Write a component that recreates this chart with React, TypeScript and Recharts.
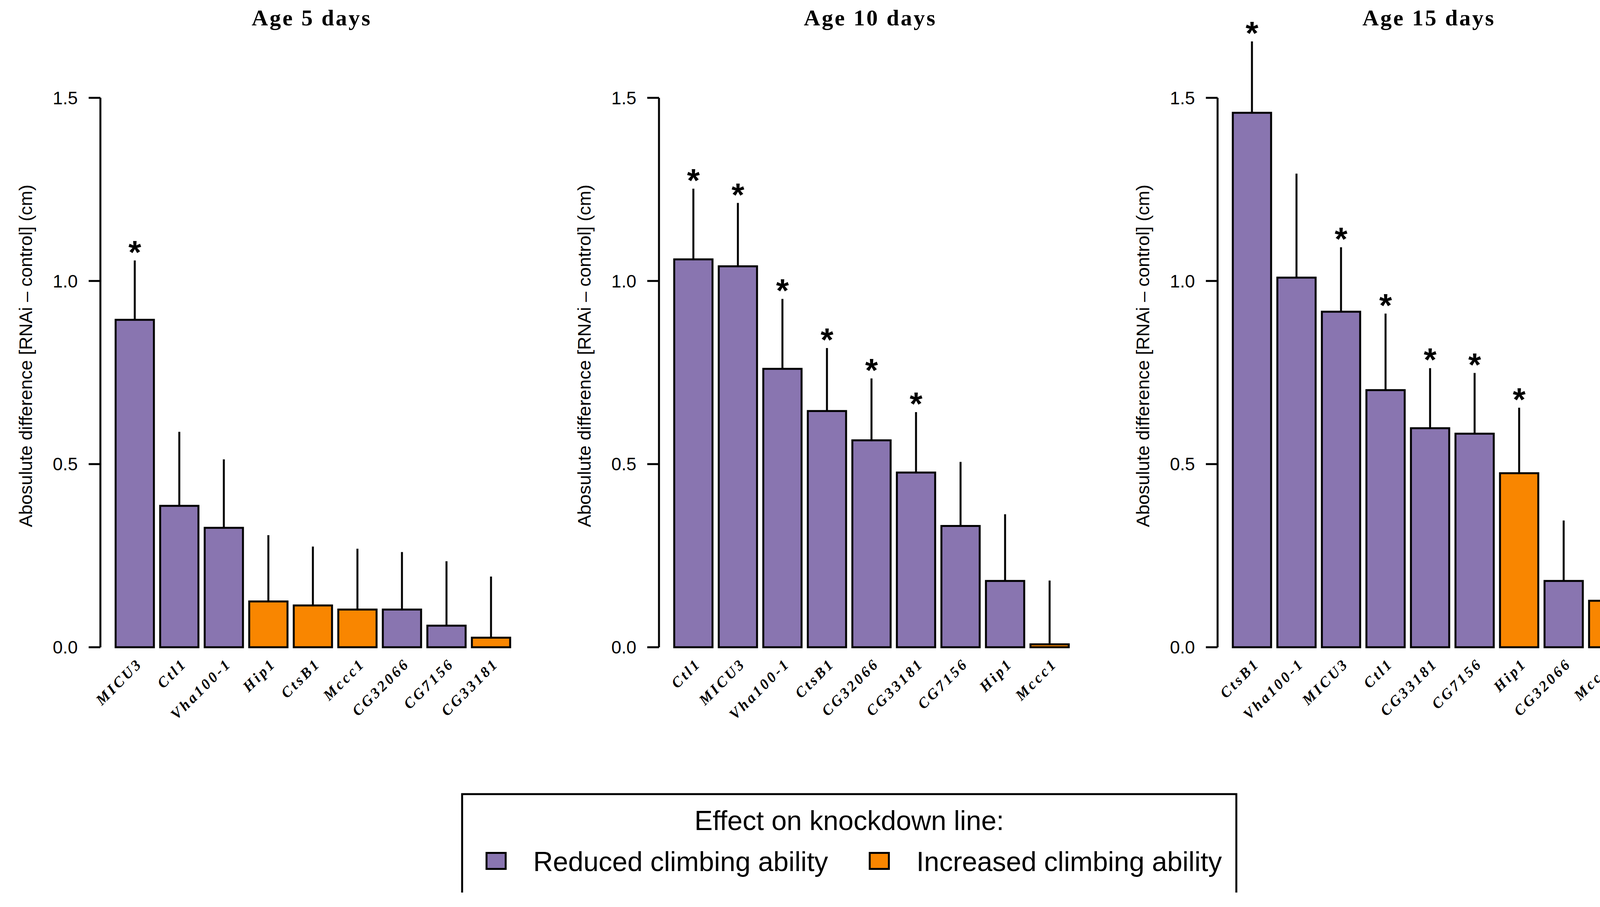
import React from "react";
import {
  ComposedChart,
  Bar,
  Cell,
  XAxis,
  YAxis,
  ErrorBar,
  Scatter,
  ReferenceLine,
  Label,
} from "recharts";

const PURPLE = "#8975B0";
const ORANGE = "#F98600";

// Age 5 days
const genes5 = ["MICU3", "Ctl1", "Vha100-1", "Hip1", "CtsB1", "Mccc1", "CG32066", "CG7156", "CG33181"];
const diff5 = [0.894, 0.386, 0.326, 0.125, 0.114, 0.103, 0.103, 0.059, 0.026];
const err5 = [0.162, 0.202, 0.187, 0.181, 0.161, 0.166, 0.157, 0.176, 0.167];
const effect5 = ["reduced", "reduced", "reduced", "increased", "increased", "increased", "reduced", "reduced", "increased"];
const sig5 = [true, false, false, false, false, false, false, false, false];

// Age 10 days
const genes10 = ["Ctl1", "MICU3", "Vha100-1", "CtsB1", "CG32066", "CG33181", "CG7156", "Hip1", "Mccc1"];
const diff10 = [1.059, 1.04, 0.76, 0.645, 0.565, 0.477, 0.331, 0.181, 0.008];
const err10 = [0.193, 0.173, 0.191, 0.172, 0.169, 0.165, 0.175, 0.182, 0.174];
const effect10 = ["reduced", "reduced", "reduced", "reduced", "reduced", "reduced", "reduced", "reduced", "increased"];
const sig10 = [true, true, true, true, true, true, false, false, false];

// Age 15 days
const genes15 = ["CtsB1", "Vha100-1", "MICU3", "Ctl1", "CG33181", "CG7156", "Hip1", "CG32066", "Mccc1"];
const diff15 = [1.459, 1.009, 0.916, 0.702, 0.598, 0.583, 0.475, 0.181, 0.127];
const err15 = [0.195, 0.284, 0.176, 0.209, 0.164, 0.166, 0.179, 0.165, 0.173];
const effect15 = ["reduced", "reduced", "reduced", "reduced", "reduced", "reduced", "increased", "reduced", "increased"];
const sig15 = [true, false, true, true, true, true, true, false, false];

const yTicks = [0, 0.5, 1, 1.5];
const yLabel = "Abosulute difference [RNAi \u2013 control] (cm)";

const AXIS_W = 260;

function buildRows(genes: string[], diffs: number[], errs: number[], effects: string[], sig: boolean[]) {
  return genes.map((g, i) => ({
    gene: g,
    diff: diffs[i],
    errRange: [0, errs[i]],
    star: sig[i] ? diffs[i] + errs[i] : null,
    effect: effects[i],
  }));
}

const panels = [
  { title: "Age 5 days", axisX: 257, rows: buildRows(genes5, diff5, err5, effect5, sig5) },
  { title: "Age 10 days", axisX: 1687, rows: buildRows(genes10, diff10, err10, effect10, sig10) },
  { title: "Age 15 days", axisX: 3117, rows: buildRows(genes15, diff15, err15, effect15, sig15) },
];

const GeneTick = (props: any) => {
  const { x, y, payload } = props;
  const tx = x + 22;
  const ty = y + 14;
  return (
    <text
      x={tx}
      y={ty}
      transform={`rotate(-45, ${tx}, ${ty})`}
      textAnchor="end"
      fontFamily="'Liberation Serif', serif"
      fontStyle="italic"
      fontWeight="bold"
      fontSize={38}
      letterSpacing={6}
      fill="#000"
    >
      {payload.value}
    </text>
  );
};

const Star = (props: any) => {
  const { cx, cy, payload } = props;
  if (!payload || payload.star == null || cx == null || cy == null) return <g />;
  return (
    <text
      x={cx}
      y={cy + 8}
      textAnchor="middle"
      fontFamily="'Liberation Sans', sans-serif"
      fontWeight="bold"
      fontSize={84}
      fill="#000"
    >
      *
    </text>
  );
};

const renderYLabel = (props: any) => {
  const vb = props.viewBox || { x: 0 };
  const x = vb.x + AXIS_W - 175;
  const y = 911;
  return (
    <text
      x={x}
      y={y}
      transform={`rotate(-90, ${x}, ${y})`}
      textAnchor="middle"
      fontFamily="'Liberation Sans', sans-serif"
      fontSize={47}
      fill="#000"
    >
      {yLabel}
    </text>
  );
};

function AgePanel({ rows, left }: { rows: any[]; left: number }) {
  return (
    <div style={{ position: "absolute", left, top: 0 }}>
      <ComposedChart width={AXIS_W + 1088 + 40} height={1897} data={rows} margin={{ top: 16, right: 40, bottom: 0, left: 0 }}>
        <XAxis
          xAxisId="gene"
          dataKey="gene"
          type="category"
          interval={0}
          padding={{ left: 31, right: 31 }}
          tickLine={false}
          axisLine={false}
          tickSize={0}
          tickMargin={0}
          height={240}
          tick={<GeneTick />}
        />
        <XAxis xAxisId="frame" type="number" domain={[0, 1]} hide />
        <YAxis
          width={AXIS_W}
          type="number"
          domain={[0, 1.75]}
          ticks={yTicks}
          interval={0}
          axisLine={false}
          tickLine={{ stroke: "#000", strokeWidth: 5 }}
          tickSize={30}
          tickMargin={28}
          tickFormatter={(v: number) => v.toFixed(1)}
          tick={{ fill: "#000", fontSize: 46, fontFamily: "'Liberation Sans', sans-serif" }}
        >
          <Label content={renderYLabel} />
        </YAxis>
        <ReferenceLine
          xAxisId="frame"
          segment={[
            { x: 0, y: 0 },
            { x: 0, y: 1.5 },
          ]}
          stroke="#000"
          strokeWidth={5}
        />
        <Bar xAxisId="gene" dataKey="diff" barSize={98} stroke="#000" strokeWidth={5} isAnimationActive={false}>
          {rows.map((r) => (
            <Cell key={r.gene} fill={r.effect === "increased" ? ORANGE : PURPLE} />
          ))}
          <ErrorBar dataKey="errRange" width={0} stroke="#000" strokeWidth={5} direction="y" isAnimationActive={false} />
        </Bar>
        <Scatter xAxisId="gene" dataKey="star" shape={<Star />} isAnimationActive={false} />
      </ComposedChart>
    </div>
  );
}

export default function App() {
  return (
    <div style={{ position: "relative", width: 4185, height: 2322, overflow: "hidden", background: "#fff" }}>
      <style>{"body{margin:0}"}</style>
      {panels.map((p) => (
        <AgePanel key={p.title} rows={p.rows} left={p.axisX - AXIS_W} />
      ))}
      <svg width={4185} height={2322} style={{ position: "absolute", left: 0, top: 0, pointerEvents: "none" }}>
        {panels.map((p) => (
          <text
            key={p.title}
            x={p.axisX + 541}
            y={65}
            textAnchor="middle"
            fontFamily="'Liberation Serif', serif"
            fontWeight="bold"
            fontSize={58}
            letterSpacing={4}
            fill="#000"
          >
            {p.title}
          </text>
        ))}
        <path d="M1183,2285 V2033 H3165 V2285" fill="none" stroke="#000" strokeWidth={5} />
        <text x={2174} y={2125} textAnchor="middle" fontFamily="'Liberation Sans', sans-serif" fontSize={70} fill="#000">
          Effect on knockdown line:
        </text>
        <rect x={1245.5} y={2183.5} width={49} height={41} fill={PURPLE} stroke="#000" strokeWidth={5} />
        <text x={1365} y={2230} fontFamily="'Liberation Sans', sans-serif" fontSize={70} fill="#000">
          Reduced climbing ability
        </text>
        <rect x={2226.5} y={2183.5} width={49} height={41} fill={ORANGE} stroke="#000" strokeWidth={5} />
        <text x={2346} y={2230} fontFamily="'Liberation Sans', sans-serif" fontSize={70} fill="#000">
          Increased climbing ability
        </text>
      </svg>
    </div>
  );
}
